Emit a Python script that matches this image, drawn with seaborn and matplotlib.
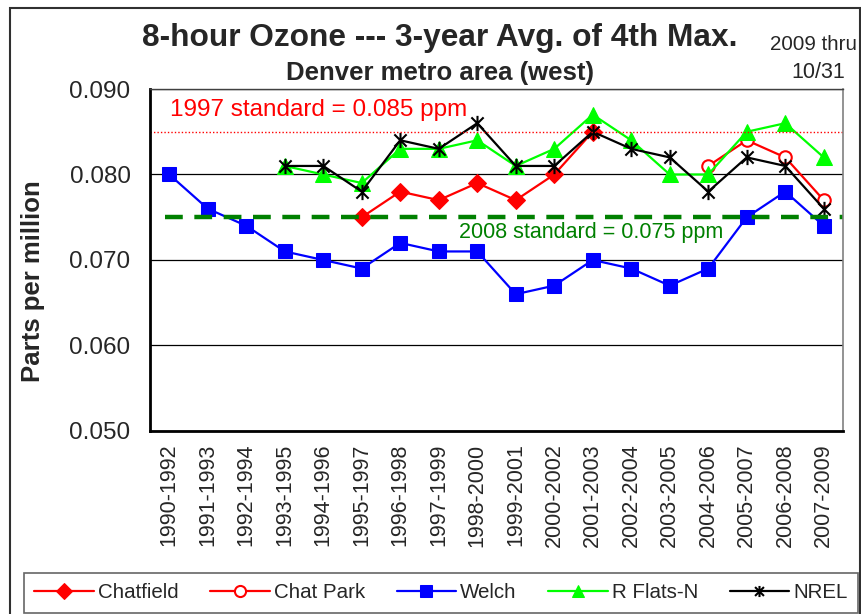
import numpy as np
import pandas as pd
import matplotlib
matplotlib.use("Agg")
import matplotlib.pyplot as plt
from matplotlib.path import Path
from matplotlib.patches import Rectangle
from matplotlib.ticker import MultipleLocator, FixedLocator, NullFormatter
import seaborn as sns

# ------------------------- DATA ------------------------- #

periods = ["1990-1992", "1991-1993", "1992-1994", "1993-1995", "1994-1996",
           "1995-1997", "1996-1998", "1997-1999", "1998-2000", "1999-2001",
           "2000-2002", "2001-2003", "2002-2004", "2003-2005", "2004-2006",
           "2005-2007", "2006-2008", "2007-2009"]

nan = np.nan
chatfield = [nan, nan, nan, nan, nan, 0.075, 0.078, 0.077, 0.079, 0.077,
             0.080, 0.085, nan, nan, nan, nan, nan, nan]
chat_park = [nan, nan, nan, nan, nan, nan, nan, nan, nan, nan,
             nan, nan, nan, nan, 0.081, 0.084, 0.082, 0.077]
welch = [0.080, 0.076, 0.074, 0.071, 0.070, 0.069, 0.072, 0.071, 0.071, 0.066,
         0.067, 0.070, 0.069, 0.067, 0.069, 0.075, 0.078, 0.074]
r_flats_n = [nan, nan, nan, 0.081, 0.080, 0.079, 0.083, 0.083, 0.084, 0.081,
             0.083, 0.087, 0.084, 0.080, 0.080, 0.085, 0.086, 0.082]
nrel = [nan, nan, nan, 0.081, 0.081, 0.078, 0.084, 0.083, 0.086, 0.081,
        0.081, 0.085, 0.083, 0.082, 0.078, 0.082, 0.081, 0.076]

standard_1997 = 0.085
standard_2008 = 0.075

# ------------------------- STYLE ------------------------- #

sns.set_style("white")
plt.rcParams["font.family"] = ["Liberation Sans", "DejaVu Sans"]

# Excel-like star: an X with a vertical bar through it
star = Path([(-1, -1), (1, 1), (-1, 1), (1, -1), (0, -1.25), (0, 1.25)],
            [Path.MOVETO, Path.LINETO, Path.MOVETO, Path.LINETO,
             Path.MOVETO, Path.LINETO])

series = [
    ("Chatfield", chatfield, dict(color="#ff0000", marker="D", markersize=9,
                                  markerfacecolor="#ff0000", markeredgecolor="#ff0000")),
    ("Chat Park", chat_park, dict(color="#ff0000", marker="o", markersize=9,
                                  markerfacecolor="white", markeredgecolor="#ff0000",
                                  markeredgewidth=1.5)),
    ("Welch", welch, dict(color="#0000ff", marker="s", markersize=9.5,
                          markerfacecolor="#0000ff", markeredgecolor="#0000ff")),
    ("R Flats-N", r_flats_n, dict(color="#00ff00", marker="^", markersize=11,
                                  markerfacecolor="#00ff00", markeredgecolor="#00ff00")),
    ("NREL", nrel, dict(color="black", marker=star, markersize=11,
                        markerfacecolor="none", markeredgecolor="black",
                        markeredgewidth=1.5)),
]

# ------------------------- PLOT ------------------------- #

fig = plt.figure(figsize=(8.62, 6.14), dpi=100)
ax = fig.add_axes([150 / 862, 1 - 431 / 614, (843 - 150) / 862, (431 - 89) / 614])

ax.yaxis.grid(True, which="major", color="black", linewidth=0.9)
ax.set_axisbelow(True)

x = np.arange(len(periods))
for name, values, kw in series:
    df = pd.DataFrame({"x": x, "y": values}).dropna()
    sns.lineplot(data=df, x="x", y="y", ax=ax, label=name, linewidth=1.6,
                 legend=False, **kw)

ax.axhline(standard_1997, color="#ff0000", linestyle=(0, (1, 1.5)), linewidth=1.0)
ax.axhline(standard_2008, xmin=0.022, xmax=1.0, color="#008000",
           linestyle=(0, (4, 2.6)), linewidth=3.2)

ax.text(0.03, 0.0875, "1997 standard = 0.085 ppm", color="#ff0000",
        fontsize=17.5, va="center", ha="left")
ax.text(7.52, 0.0732, "2008 standard = 0.075 ppm", color="#008000",
        fontsize=15.5, va="center", ha="left")

ax.set_xlim(-0.5, len(periods) - 0.5)
ax.set_ylim(0.050, 0.090)
ax.set_xticks(x)
ax.set_xticklabels(periods, rotation=90, fontsize=15.5)
ax.xaxis.set_minor_locator(FixedLocator(np.arange(-0.5, len(periods), 1.0)))
ax.tick_params(axis="x", which="major", length=0, pad=9)
ax.tick_params(axis="x", which="minor", length=6, width=1.2, direction="out",
               color="black")
ax.yaxis.set_major_locator(MultipleLocator(0.01))
ax.yaxis.set_minor_locator(MultipleLocator(0.005))
ax.yaxis.set_minor_formatter(NullFormatter())
ax.set_yticklabels([f"{v:.3f}" for v in ax.get_yticks()], fontsize=17.5)
ax.tick_params(axis="y", which="both", length=8, width=1.2, direction="out",
               color="black", pad=6)
ax.set_xlabel("")
ax.set_ylabel("")

for side in ["left", "bottom"]:
    ax.spines[side].set_color("black")
    ax.spines[side].set_linewidth(2.0)
ax.spines["top"].set_color("#404040")
ax.spines["top"].set_linewidth(1.0)
ax.spines["right"].set_color("#808080")
ax.spines["right"].set_linewidth(1.2)

# ------------------------- TEXT ------------------------- #

fig.text(440 / 862, 1 - 38 / 614, "8-hour Ozone --- 3-year Avg. of 4th Max.",
         fontsize=22.8, fontweight="bold", ha="center", va="center")
fig.text(440 / 862, 1 - 73 / 614, "Denver metro area (west)",
         fontsize=18.5, fontweight="bold", ha="center", va="center")
fig.text(770 / 862, 1 - 45 / 614, "2009 thru", fontsize=14.8, ha="left", va="center")
fig.text(791 / 862, 1 - 72 / 614, "10/31", fontsize=15.5, ha="left", va="center")
fig.text(33 / 862, 1 - 281 / 614, "Parts per million", fontsize=18.5,
         fontweight="bold", rotation=90, ha="center", va="center")

# ------------------------- LEGEND ------------------------- #

handles, labels = ax.get_legend_handles_labels()
leg = fig.legend(handles, labels, loc="upper left", ncol=5,
                 bbox_to_anchor=(24 / 862, 1 - 573 / 614, 834 / 862, 0.0),
                 mode="expand", frameon=True, fancybox=False, fontsize=14.8,
                 handlelength=2.9, handletextpad=0.2, columnspacing=1.0,
                 borderaxespad=0.0, borderpad=0.5)
leg.get_frame().set_edgecolor("#404040")
leg.get_frame().set_linewidth(1.2)
for h in leg.legend_handles:
    h.set_markersize(8)

fig.patches.append(Rectangle((10 / 862, -0.05), 850 / 862, 1.05 - 8 / 614,
                             transform=fig.transFigure, fill=False,
                             edgecolor="#303030", linewidth=1.5, zorder=-1))

fig.savefig("out.png", dpi=100)
